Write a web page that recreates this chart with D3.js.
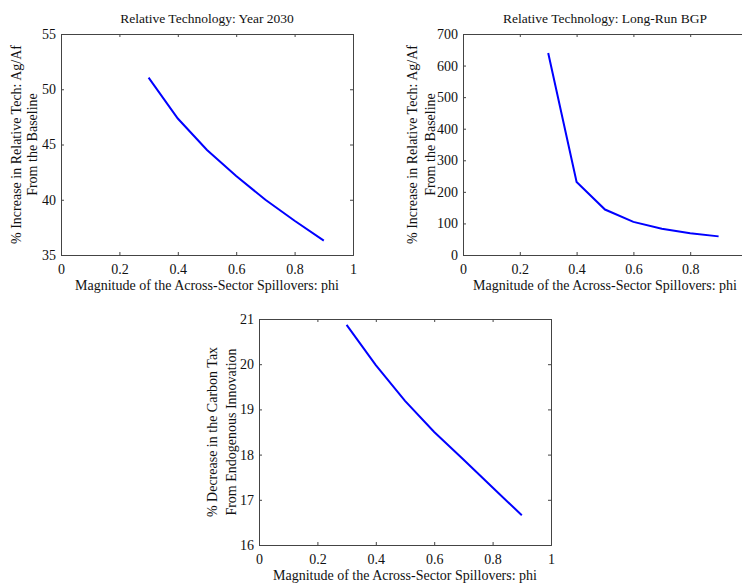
<!DOCTYPE html>
<html lang="en">
<head>
<meta charset="UTF-8">
<title>Relative Technology and Carbon Tax vs Spillovers</title>
<script src="https://d3js.org/d3.v7.min.js"></script>
<style>
body { margin: 0; background: #fff; }
svg { display: block; }
.axis path, .axis line { stroke: #444; }
.title { font-size: 13.5px; }
.label { font-size: 14px; }
</style>
</head>
<body>
<svg width="742" height="584"></svg>
<script>
// x values (phi)
const phi = [0.3, 0.4, 0.5, 0.6, 0.7, 0.8, 0.9];

// series
const tech2030 = [51.05, 47.35, 44.5, 42.15, 40.0, 38.1, 36.3];
const techBGP = [640, 231, 144, 105, 83, 69, 59];
const taxDecrease = [20.87, 19.98, 19.19, 18.5, 17.89, 17.27, 16.66];

const xTicks = [0, 0.2, 0.4, 0.6, 0.8, 1];
const ticks2030 = [35, 40, 45, 50, 55];
const ticksBGP = [0, 100, 200, 300, 400, 500, 600, 700];
const ticksTax = [16, 17, 18, 19, 20, 21];

const xLabel = "Magnitude of the Across-Sector Spillovers: phi";

const panels = [
  { box: [61, 34, 353, 255], values: tech2030, yDomain: [35, 55], yTicks: ticks2030,
    title: "Relative Technology: Year 2030",
    ylab: ["% Increase in Relative Tech: Ag/Af", "From the Baseline"], ylabX: -40.5, ylabGap: 16.5 },
  { box: [463, 34, 747, 255], values: techBGP, yDomain: [0, 700], yTicks: ticksBGP,
    title: "Relative Technology: Long-Run BGP",
    ylab: ["% Increase in Relative Tech: Ag/Af", "From the Baseline"], ylabX: -46.5, ylabGap: 18 },
  { box: [259, 319, 551, 545], values: taxDecrease, yDomain: [16, 21], yTicks: ticksTax,
    title: null,
    ylab: ["% Decrease in the Carbon Tax", "From Endogenous Innovation"], ylabX: -42, ylabGap: 19 }
];

const W = 742;
const font = "'Liberation Serif', 'Times New Roman', serif";
const svg = d3.select("svg").attr("font-family", font).attr("fill", "#111");
const fmt = d3.format("");

panels.forEach(function(p) {
  const [x0, y0, x1, y1] = p.box;
  const x = d3.scaleLinear().domain([0, 1]).range([x0, x1]);
  const y = d3.scaleLinear().domain(p.yDomain).range([y1, y0]);
  const g = svg.append("g");

  // box with inward ticks on all four sides
  g.append("g").attr("class", "axis")
    .attr("transform", "translate(0," + y1 + ")")
    .call(d3.axisBottom(x).tickValues(xTicks).tickSize(-3).tickPadding(9)
      .tickFormat(function(d) { return x(d) + 6 > W ? "" : fmt(d); }));
  g.append("g").attr("class", "axis")
    .attr("transform", "translate(0," + y0 + ")")
    .call(d3.axisTop(x).tickValues(xTicks).tickSize(-3).tickFormat(""));
  g.append("g").attr("class", "axis")
    .attr("transform", "translate(" + x0 + ",0)")
    .call(d3.axisLeft(y).tickValues(p.yTicks).tickSize(-3).tickPadding(5).tickFormat(fmt));
  g.append("g").attr("class", "axis")
    .attr("transform", "translate(" + x1 + ",0)")
    .call(d3.axisRight(y).tickValues(p.yTicks).tickSize(-3).tickFormat(""));
  g.selectAll(".axis")
    .attr("font-family", font)
    .attr("font-size", 14);
  g.selectAll(".axis text").attr("fill", "#111");

  g.append("path")
    .datum(phi)
    .attr("fill", "none")
    .attr("stroke", "#0000ff")
    .attr("stroke-width", 2)
    .attr("d", d3.line()
      .x(function(d) { return x(d); })
      .y(function(d, i) { return y(p.values[i]); }));

  if (p.title) {
    g.append("text").attr("class", "title")
      .attr("x", (x0 + x1) / 2).attr("y", y0 - 11)
      .attr("text-anchor", "middle")
      .text(p.title);
  }

  g.append("text").attr("class", "label")
    .attr("x", (x0 + x1) / 2).attr("y", y1 + 35)
    .attr("text-anchor", "middle")
    .text(xLabel);

  p.ylab.forEach(function(t, i) {
    const lx = x0 + p.ylabX + i * p.ylabGap;
    g.append("text").attr("class", "label")
      .attr("transform", "translate(" + lx + "," + (y0 + y1) / 2 + ") rotate(-90)")
      .attr("text-anchor", "middle")
      .text(t);
  });
});
</script>
</body>
</html>
